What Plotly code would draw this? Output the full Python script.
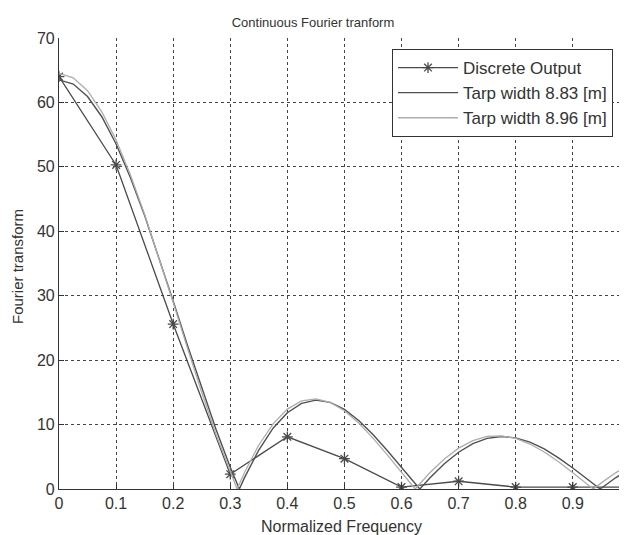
import plotly.graph_objects as go

# Discrete output (samples every 0.1)
disc_x = [0, 0.1, 0.2, 0.3, 0.4, 0.5, 0.6, 0.7, 0.8, 0.9, 1.0]
disc_y = [64.0, 50.3, 25.6, 2.3, 8.1, 4.7, 0.3, 1.2, 0.3, 0.3, 0.3]

# Tarp width 8.83 [m]
w883_x = [0, 0.025, 0.05, 0.075, 0.1, 0.125, 0.15, 0.175, 0.2, 0.225, 0.25, 0.275, 0.3, 0.316,
          0.325, 0.35, 0.375, 0.4, 0.425, 0.45, 0.475, 0.5, 0.525, 0.55, 0.575, 0.6, 0.625, 0.632,
          0.65, 0.675, 0.7, 0.725, 0.75, 0.775, 0.8, 0.825, 0.85, 0.875, 0.9, 0.925, 0.948,
          0.975, 1.0]
w883_y = [63.5, 62.85, 60.92, 57.78, 53.54, 48.36, 42.45, 35.98, 29.2, 22.32, 15.61, 9.26, 3.37, 0.0,
          1.76, 6.05, 9.43, 11.84, 13.28, 13.79, 13.45, 12.35, 10.64, 8.45, 5.97, 3.34, 0.71, 0.0,
          1.75, 3.92, 5.71, 7.03, 7.85, 8.15, 7.94, 7.28, 6.22, 4.84, 3.26, 1.56, 0.0,
          1.74, 3.16]

# Tarp width 8.96 [m]
w896_x = [0, 0.025, 0.05, 0.075, 0.1, 0.125, 0.15, 0.175, 0.2, 0.225, 0.25, 0.275, 0.3, 0.312,
          0.325, 0.35, 0.375, 0.4, 0.425, 0.45, 0.475, 0.5, 0.525, 0.55, 0.575, 0.6, 0.624,
          0.65, 0.675, 0.7, 0.725, 0.75, 0.775, 0.8, 0.825, 0.85, 0.875, 0.9, 0.925, 0.936,
          0.95, 0.975, 1.0]
w896_y = [64.5, 63.82, 61.82, 58.55, 54.15, 48.76, 42.63, 35.94, 28.94, 21.87, 14.99, 8.5, 2.58, 0.0,
          2.57, 6.83, 10.12, 12.4, 13.68, 14.0, 13.45, 12.15, 10.25, 7.9, 5.29, 2.56, 0.0,
          2.55, 4.66, 6.34, 7.51, 8.15, 8.26, 7.85, 6.98, 5.74, 4.22, 2.52, 0.77, 0.0,
          0.95, 2.51, 3.84]

x_ticks = [0, 0.1, 0.2, 0.3, 0.4, 0.5, 0.6, 0.7, 0.8, 0.9, 1.0]
x_tick_labels = ["0", "0.1", "0.2", "0.3", "0.4", "0.5", "0.6", "0.7", "0.8", "0.9", "1"]
y_ticks = [0, 10, 20, 30, 40, 50, 60, 70]

FONT = "Liberation Sans, Arial, sans-serif"
TXT = "#333333"

fig = go.Figure()
fig.add_trace(go.Scatter(x=disc_x, y=disc_y, mode="lines+markers", name="Discrete Output",
                         line=dict(color="#4a4a4a", width=1.3),
                         marker=dict(symbol="asterisk-open", size=9,
                                     line=dict(color="#4a4a4a", width=1.3))))
fig.add_trace(go.Scatter(x=w883_x, y=w883_y, mode="lines", name="Tarp width 8.83 [m]",
                         line=dict(color="#505050", width=1.4)))
fig.add_trace(go.Scatter(x=w896_x, y=w896_y, mode="lines", name="Tarp width 8.96 [m]",
                         line=dict(color="#adadad", width=1.3)))

axis_common = dict(
    showline=True, linecolor=TXT, linewidth=1.2,
    showgrid=True, gridcolor="#444444", gridwidth=1, griddash="3px,3px",
    ticks="inside", ticklen=5, tickcolor=TXT,
    tickfont=dict(family=FONT, size=16, color=TXT),
    zeroline=False,
)

# the page body has an 8px margin, so the figure is sized to fit the window
W, H = 619, 527
PW, PH = 568, 451  # plot area size in px
fig.update_layout(
    width=W, height=H,
    margin=dict(l=51, r=0, t=30, b=46),
    paper_bgcolor="white", plot_bgcolor="white",
    font=dict(family=FONT, color=TXT),
    title=dict(text="Continuous Fourier tranform", x=(313 - 8) / W, xanchor="center",
               y=1 - 14 / H, yanchor="middle",
               font=dict(family=FONT, size=13, color=TXT)),
    xaxis=dict(range=[0, 0.995], tickvals=x_ticks, ticktext=x_tick_labels, **axis_common),
    yaxis=dict(range=[0, 70], tickvals=y_ticks, **axis_common),
    legend=dict(x=(392 - 59) / PW, y=(489 - 49) / PH, xanchor="left", yanchor="top",
                bgcolor="white", bordercolor=TXT, borderwidth=1,
                font=dict(family=FONT, size=17, color=TXT),
                itemwidth=60, tracegroupgap=0),
    showlegend=True,
    annotations=[
        dict(text="Normalized Frequency", xref="paper", yref="paper",
             x=(341 - 59) / PW, y=-(526 - 489) / PH, xanchor="center", yanchor="middle",
             showarrow=False, font=dict(family=FONT, size=16, color=TXT)),
        dict(text="Fourier transform", xref="paper", yref="paper", textangle=-90,
             x=-(59 - 17) / PW, y=(489 - 267) / PH, xanchor="center", yanchor="middle",
             showarrow=False, font=dict(family=FONT, size=15, color=TXT)),
    ],
)

fig.write_html("out.html")
